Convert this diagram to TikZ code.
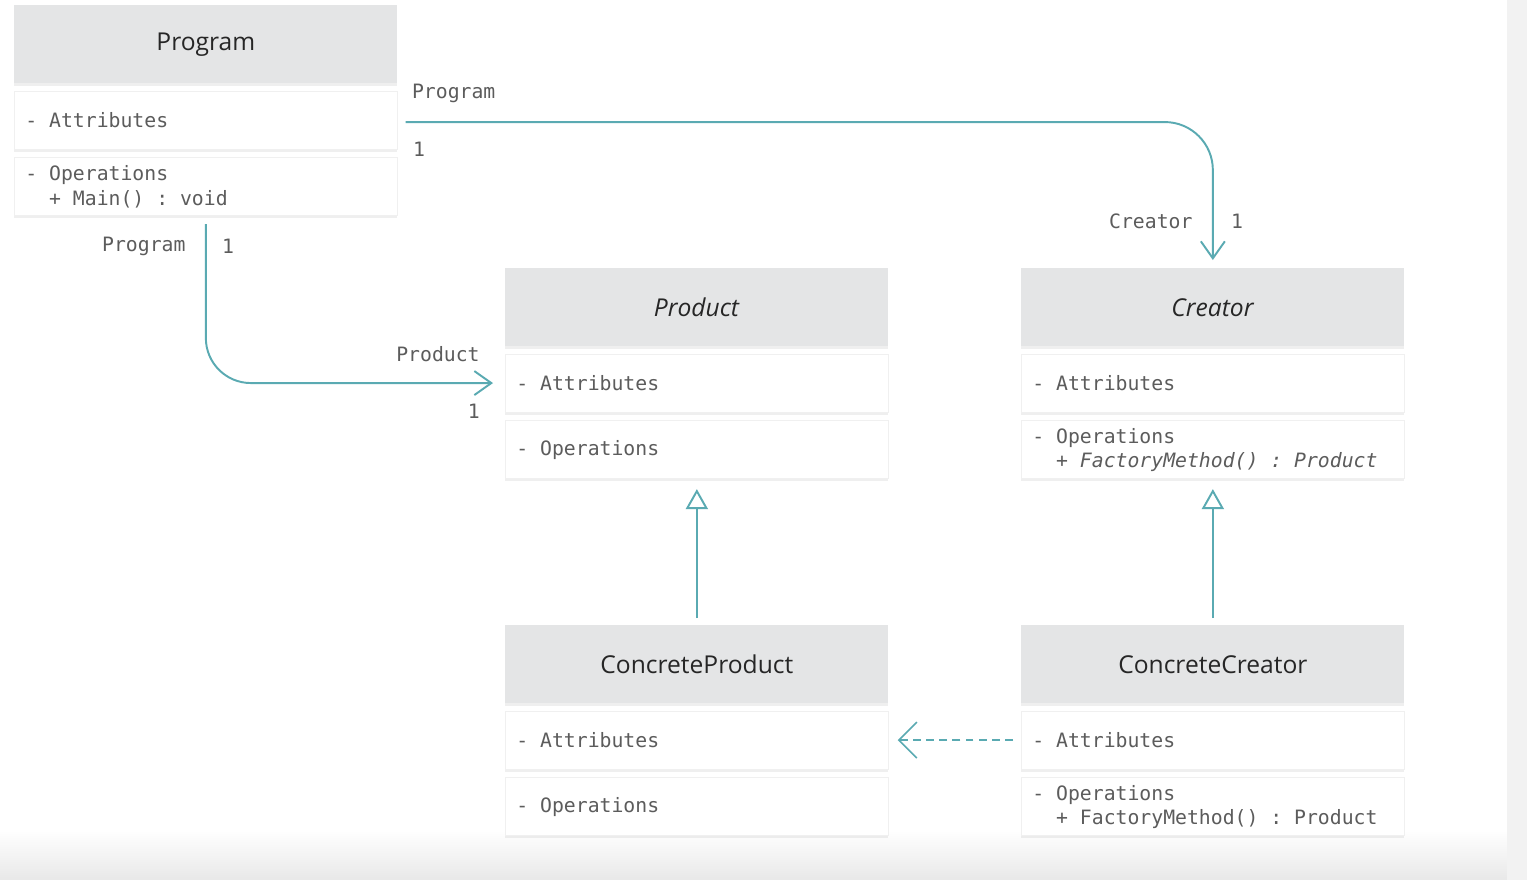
\documentclass[tikz,border=0pt]{standalone}
\usepackage{fontspec}
\setmainfont{Open Sans}
\setmonofont{DejaVu Sans Mono}
\usetikzlibrary{positioning,arrows.meta,calc,shadows}
\definecolor{umlline}{HTML}{5AAAB2}
\definecolor{headgray}{HTML}{E4E5E6}
\definecolor{txtgray}{HTML}{5C5C5C}
\newcommand\umlmono{\ttfamily\fontsize{11.25}{13.7}\selectfont}

\begin{document}
\begin{tikzpicture}[x=0.2mm, y=-0.2mm,
    boxshadow/.style={drop shadow={shadow xshift=0pt, shadow yshift=-1.5pt, opacity=0.12}},
    head/.style={boxshadow, fill=headgray, minimum width=76.6mm, minimum height=15.6mm, inner sep=0pt,
        font=\fontsize{14}{17}\selectfont, text=black!85},
    comp/.style={boxshadow, fill=white, draw=black!6, minimum width=76.6mm, minimum height=11.6mm, text width=72.2mm,
        inner xsep=2.2mm, inner ysep=0pt, align=flush left, font=\umlmono, text=txtgray},
    link/.style={draw=umlline, line width=1.1pt},
    role/.style={font=\umlmono, text=txtgray, inner sep=0pt}]

    \fill[white] (0,0) rectangle (1527,880);
    \shade[top color=white, bottom color=black!9] (0,830) rectangle (1507,880);
    \fill[black!5] (1507,0) rectangle (1527,880);
    \useasboundingbox (0,0) rectangle (1527,880);

    \foreach \nm/\x/\y/\ttl/\ops in {
        prg/14/5/Program/{- Operations\\\hspace*{1.204em}+ Main() : void},
        prod/505/268/\textit{Product}/{- Operations},
        cre/1021/268/\textit{Creator}/{- Operations\\\hspace*{1.204em}+ \textit{FactoryMethod() : Product}},
        cprod/505/625/ConcreteProduct/{- Operations},
        ccre/1021/625/ConcreteCreator/{- Operations\\\hspace*{1.204em}+ FactoryMethod() : Product}} {
        \node[head, anchor=north west] (\nm-h) at (\x,\y) {\ttl};
        \node[comp, below=1.4mm of \nm-h] (\nm-a) {- Attributes};
        \node[comp, below=1.6mm of \nm-a] (\nm-o) {\ops};
    }

    \draw[link, rounded corners=9.6mm, -{Straight Barb[length=3.4mm, width=4.8mm]}]
        ($(prg-a.east)+(8,2)$) coordinate (p1) -- (p1 -| cre-h.north) -- ($(cre-h.north)+(0,-8)$) coordinate (e1);
    \node[role, anchor=west] (p1-name) at ($(p1)+(6,-29)$) {Program};
    \node[role, anchor=west] (p1-mult) at ($(p1)+(7,27)$) {1};
    \node[role, anchor=east] (e1-name) at ($(e1)+(-20,-39)$) {Creator};
    \node[role, anchor=west] (e1-mult) at ($(e1)+(18,-39)$) {1};

    \draw[link, rounded corners=9mm, -{Straight Barb[length=3.4mm, width=4.8mm]}]
        ($(prg-o.south)+(0,8)$) coordinate (p2) -- (p2 |- prod-a.west) -- ($(prod-a.west)+(-12,0)$) coordinate (e2);
    \node[role, anchor=east] (p2-name) at ($(p2)+(-20,22)$) {Program};
    \node[role, anchor=west] (p2-mult) at ($(p2)+(16,22)$) {1};
    \node[role, anchor=east] (e2-name) at ($(e2)+(-13,-29)$) {Product};
    \node[role, anchor=east] (e2-mult) at ($(e2)+(-13,28)$) {1};

    \foreach \sub/\sup in {cprod/prod, ccre/cre}
        \draw[link, -{Triangle[open, fill=white, length=4mm, width=4.4mm]}]
            ($(\sub-h.north)+(0,-7)$) -- ($(\sup-o.south)+(0,10)$);

    \draw[link, line width=0.9pt, dash pattern=on 4.5pt off 3pt, -{Straight Barb[length=3.6mm, width=7.2mm]}]
        ($(ccre-a.west)+(-8,0)$) -- ($(cprod-a.east)+(9,0)$);
\end{tikzpicture}
\end{document}
